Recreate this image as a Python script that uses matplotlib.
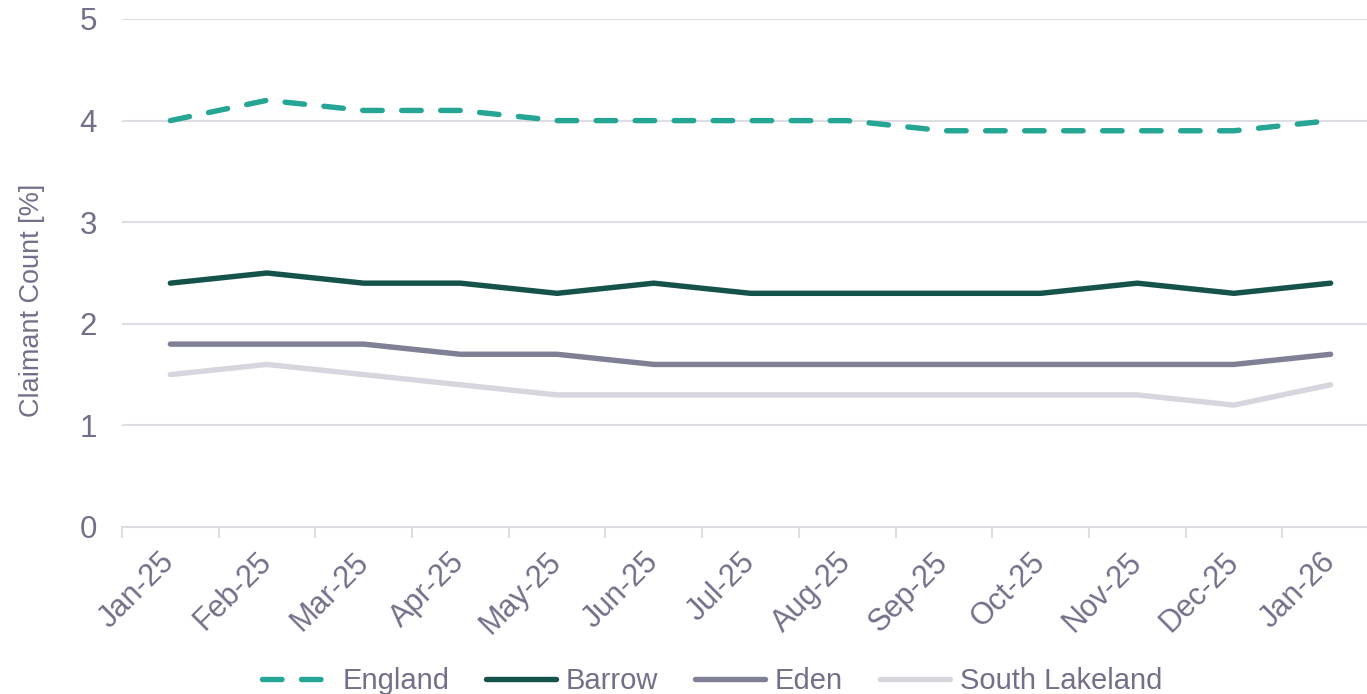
import matplotlib
matplotlib.use("Agg")
import matplotlib.pyplot as plt
import numpy as np

# Claimant count rate by area, monthly
months = ["Jan-25", "Feb-25", "Mar-25", "Apr-25", "May-25", "Jun-25", "Jul-25",
          "Aug-25", "Sep-25", "Oct-25", "Nov-25", "Dec-25", "Jan-26"]
england = [4.0, 4.2, 4.1, 4.1, 4.0, 4.0, 4.0, 4.0, 3.9, 3.9, 3.9, 3.9, 4.0]
barrow = [2.4, 2.5, 2.4, 2.4, 2.3, 2.4, 2.3, 2.3, 2.3, 2.3, 2.4, 2.3, 2.4]
eden = [1.8, 1.8, 1.8, 1.7, 1.7, 1.6, 1.6, 1.6, 1.6, 1.6, 1.6, 1.6, 1.7]
south_lakeland = [1.5, 1.6, 1.5, 1.4, 1.3, 1.3, 1.3, 1.3, 1.3, 1.3, 1.3, 1.2, 1.4]

txt = "#726f8a"
grid = "#dedde4"

plt.rcParams['font.family'] = ['Liberation Sans', 'DejaVu Sans']

fig = plt.figure(figsize=(13.67, 6.94), dpi=100)
ax = fig.add_axes([122 / 1367, 167 / 694, 1 - 122 / 1367, 508 / 694])

x = np.arange(len(months))
lw = 3.9
ax.plot(x, england, color="#25a593", lw=lw, dashes=(3.6, 3.6),
        dash_capstyle="round", solid_capstyle="round", label="England")
ax.plot(x, barrow, color="#15534a", lw=lw, solid_capstyle="round", label="Barrow")
ax.plot(x, eden, color="#7f7f96", lw=lw, solid_capstyle="round", label="Eden")
ax.plot(x, south_lakeland, color="#d7d6de", lw=lw, solid_capstyle="round",
        label="South Lakeland")

ax.set_xlim(-0.5, 12.376)
ax.set_ylim(0, 5)
ax.set_yticks(range(0, 6))
ax.yaxis.grid(True, color=grid, lw=1.5)
ax.set_axisbelow(True)

for s in ["top", "right", "left"]:
    ax.spines[s].set_visible(False)
ax.spines["bottom"].set_color(grid)
ax.spines["bottom"].set_linewidth(1.5)

ax.set_xticks(x)
ax.set_xticklabels(months, rotation=45, ha="right", va="center", rotation_mode="anchor")
ax.set_xticks(np.arange(-0.5, 12, 1), minor=True)
ax.tick_params(axis="x", which="major", length=0, pad=22, labelsize=22, labelcolor=txt)
ax.tick_params(axis="x", which="minor", length=8, width=1.5, color=grid)
ax.tick_params(axis="y", length=0, pad=18, labelsize=22.5, labelcolor=txt)

ax.set_ylabel("Claimant Count [%]", fontsize=19.5, color=txt)
ax.yaxis.set_label_coords(-0.062, 0.447)

leg = fig.legend(loc="center", bbox_to_anchor=(0.521, 13 / 694), ncol=4, frameon=False,
                 fontsize=21, handlelength=2.4, columnspacing=1.25, handletextpad=0.35)
for t in leg.get_texts():
    t.set_color(txt)

fig.savefig("out.png", dpi=100)
